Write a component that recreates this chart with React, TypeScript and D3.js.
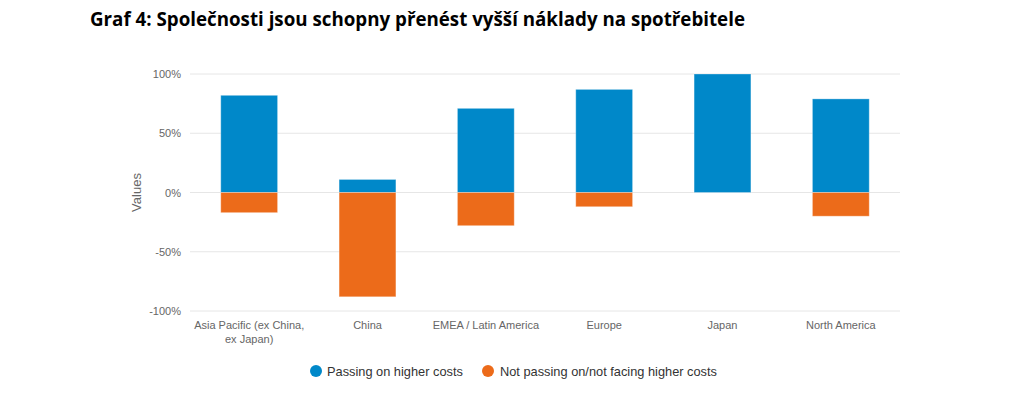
import React from "react";
import * as d3 from "d3";

const categories = ["Asia Pacific (ex China, ex Japan)", "China", "EMEA / Latin America", "Europe", "Japan", "North America"];
const categoryLines = [["Asia Pacific (ex China,", "ex Japan)"], ["China"], ["EMEA / Latin America"], ["Europe"], ["Japan"], ["North America"]];
const passing = [82, 11, 71, 87, 100, 79];
const notPassing = [-17, -88, -28, -12, 0, -20];
const yTicks = [-100, -50, 0, 50, 100];
const seriesNames = ["Passing on higher costs", "Not passing on/not facing higher costs"];
const colors = ["#0088c9", "#ec6b1a"];

export default function App() {
  const W = 1024, H = 412;
  const x = d3.scaleBand<string>().domain(categories).range([190, 900]).paddingInner(0.52).paddingOuter(0.26);
  const y = d3.scaleLinear().domain([-100, 100]).range([311, 74]);
  const font = "'Liberation Sans', Arial, sans-serif";
  return (
    <svg width={W} height={H} style={{ position: "absolute", left: 0, top: 0, background: "#fff" }}>
      <rect width={W} height={H} fill="#fff" />
      <text x={90} y={26} fontFamily="'Open Sans', sans-serif" fontWeight={700} fontSize={19} fill="#000" textLength={655} lengthAdjust="spacingAndGlyphs">
        Graf 4: Společnosti jsou schopny přenést vyšší náklady na spotřebitele
      </text>
      {yTicks.map((t) => (
        <g key={t}>
          <line x1={190} x2={900} y1={y(t)} y2={y(t)} stroke="#e6e6e6" strokeWidth={1} />
          <text x={181} y={y(t) + 4} textAnchor="end" fontFamily={font} fontSize={11} fill="#666">{t + "%"}</text>
        </g>
      ))}
      <text transform={`translate(141,${y(0)}) rotate(-90)`} textAnchor="middle" fontFamily={font} fontSize={13} fill="#666">Values</text>
      {categories.map((c, i) => (
        <g key={c}>
          <rect x={x(c)} width={x.bandwidth()} y={y(passing[i])} height={y(0) - y(passing[i])} fill={colors[0]} stroke="#ffffff" strokeOpacity={0.3} strokeWidth={1} />
          {notPassing[i] !== 0 && (
            <rect x={x(c)} width={x.bandwidth()} y={y(0)} height={y(notPassing[i]) - y(0)} fill={colors[1]} stroke="#ffffff" strokeOpacity={0.3} strokeWidth={1} />
          )}
          <text textAnchor="middle" fontFamily={font} fontSize={11} fill="#666">
            {categoryLines[i].map((l, j) => (
              <tspan key={j} x={(x(c) as number) + x.bandwidth() / 2} y={329 + j * 14}>{l}</tspan>
            ))}
          </text>
        </g>
      ))}
      <g fontFamily={font} fontSize={12.8} fill="#333">
        <circle cx={316} cy={371} r={6} fill={colors[0]} />
        <text x={327} y={375.5}>{seriesNames[0]}</text>
        <circle cx={488} cy={371} r={6} fill={colors[1]} />
        <text x={500} y={375.5}>{seriesNames[1]}</text>
      </g>
    </svg>
  );
}
